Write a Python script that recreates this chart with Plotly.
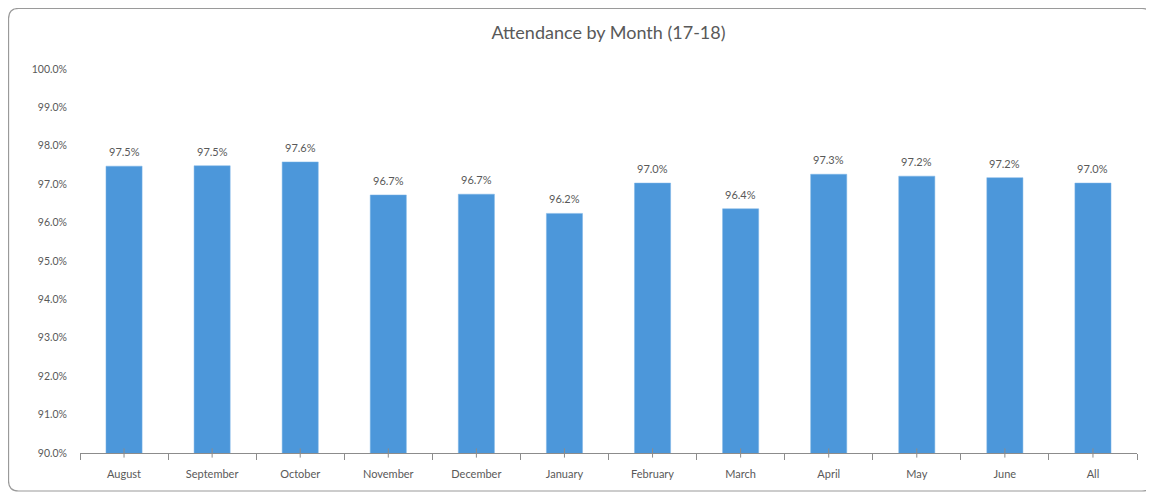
import plotly.graph_objects as go

months = ["August", "September", "October", "November", "December", "January",
          "February", "March", "April", "May", "June", "All"]
attendance = [97.47, 97.48, 97.58, 96.72, 96.74, 96.24, 97.03, 96.36, 97.26, 97.21, 97.17, 97.03]
y_ticks = [90, 91, 92, 93, 94, 95, 96, 97, 98, 99, 100]

grey = "#595959"
font = "Lato, 'Open Sans', sans-serif"

W, H = 1146, 486  # page body adds an 8px margin

fig = go.Figure()
fig.add_trace(go.Bar(
    x=months, y=attendance,
    marker=dict(color="#4C97DA", line=dict(color="#7DB5E6", width=0.5)),
    width=0.41, hoverinfo="x+y",
))

# value labels above bars
for m, v in zip(months, attendance):
    fig.add_annotation(x=m, y=v, xref="x", yref="y", text=f"{v:.1f}%", showarrow=False,
                       yanchor="bottom", yshift=6,
                       font=dict(family=font, size=11, color=grey))

# small tick marks at category centres
for m in months:
    fig.add_shape(type="line", xref="x", yref="paper", x0=m, x1=m, y0=-0.012, y1=0.012,
                  line=dict(color="#8c8c8c", width=1))

# rounded chart frame
x0, x1, y0, y1 = -0.0676, 1.0142, -0.099, 1.1576
rx, ry = 0.0095, 0.026
path = (f"M {x0+rx},{y1} L {x1-rx},{y1} Q {x1},{y1} {x1},{y1-ry} "
        f"L {x1},{y0+ry} Q {x1},{y0} {x1-rx},{y0} L {x0+rx},{y0} "
        f"Q {x0},{y0} {x0},{y0+ry} L {x0},{y1-ry} Q {x0},{y1} {x0+rx},{y1} Z")
fig.add_shape(type="path", xref="paper", yref="paper", path=path,
              line=dict(color="#9a9a9a", width=1.2), layer="below")

fig.update_layout(
    width=W, height=H,
    margin=dict(l=72, r=17, t=61, b=41, autoexpand=False),
    paper_bgcolor="white", plot_bgcolor="white",
    title=dict(text="Attendance by Month (17-18)", x=0.5, xref="paper", xanchor="center",
               y=1 - 25 / H, yref="container", yanchor="middle",
               font=dict(family=font, size=18, color=grey)),
    showlegend=False,
    font=dict(family=font, color=grey),
    xaxis=dict(
        type="category", showline=True, linecolor="#8c8c8c", linewidth=1,
        ticks="outside", tickson="boundaries", ticklen=6, tickcolor="#8c8c8c",
        tickfont=dict(family=font, size=11, color=grey), showgrid=False,
        ticklabelstandoff=11,
    ),
    yaxis=dict(
        range=[90, 100], tickvals=y_ticks, ticktext=[f"{v:.1f}%" for v in y_ticks],
        showgrid=False, zeroline=False, showline=False,
        tickfont=dict(family=font, size=10.5, color=grey), ticklabelstandoff=12,
    ),
)

fig.write_html("out.html")
